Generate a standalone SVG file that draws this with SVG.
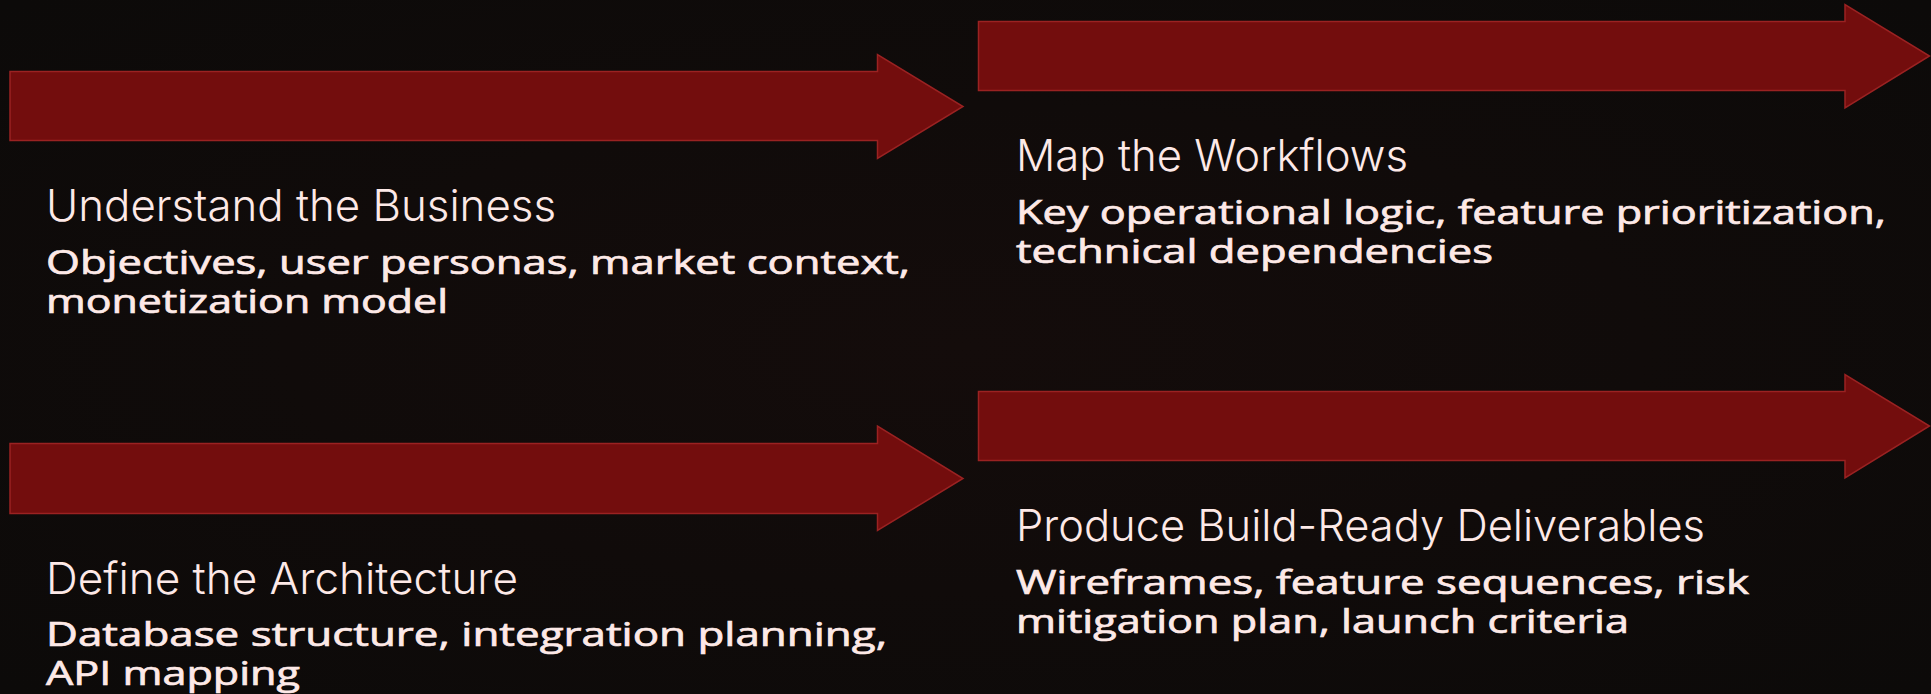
<svg xmlns="http://www.w3.org/2000/svg" width="1931" height="694" viewBox="0 0 1931 694">
  <defs>
    <radialGradient id="bg" cx="0.5" cy="0.5" r="0.7">
      <stop offset="0" stop-color="#140c0b"/>
      <stop offset="1" stop-color="#0c0a09"/>
    </radialGradient>
    <style>
      .arrow { fill: #730d0d; stroke: #9a2222; stroke-width: 1.5; stroke-linejoin: miter; }
      .title { font-family: Inter, "Liberation Sans", sans-serif; font-weight: 300; font-size: 44px; fill: #fde9e7; }
      .body { font-family: "Open Sans", "Liberation Sans", sans-serif; font-weight: 400; font-size: 32px; fill: #fde9e7; stroke: #fde9e7; stroke-width: 0.7; }
    </style>
  </defs>
  <rect x="0" y="0" width="1931" height="694" fill="url(#bg)"/>

  <g id="connectors"></g>

  <g id="node-understand">
    <path class="arrow" d="M10,71.5 H877.5 V54.5 L963,106.5 L877.5,158.5 V140.5 H10 Z"/>
    <text class="title" x="46" y="221" textLength="510" lengthAdjust="spacingAndGlyphs">Understand the Business</text>
    <text class="body" x="46" y="274" textLength="864" lengthAdjust="spacingAndGlyphs">Objectives, user personas, market context,</text>
    <text class="body" x="46" y="313" textLength="402" lengthAdjust="spacingAndGlyphs">monetization model</text>
  </g>

  <g id="node-workflows">
    <path class="arrow" d="M978.5,21.5 H1845 V4.5 L1929.5,56 L1845,108 V90.5 H978.5 Z"/>
    <text class="title" x="1016" y="171" textLength="392" lengthAdjust="spacingAndGlyphs">Map the Workflows</text>
    <text class="body" x="1016" y="224" textLength="870" lengthAdjust="spacingAndGlyphs">Key operational logic, feature prioritization,</text>
    <text class="body" x="1016" y="263" textLength="477" lengthAdjust="spacingAndGlyphs">technical dependencies</text>
  </g>

  <g id="node-architecture">
    <path class="arrow" d="M10,443.5 H877.5 V426 L963,478.5 L877.5,530.5 V513.5 H10 Z"/>
    <text class="title" x="46" y="594" textLength="472" lengthAdjust="spacingAndGlyphs">Define the Architecture</text>
    <text class="body" x="46" y="646" textLength="841" lengthAdjust="spacingAndGlyphs">Database structure, integration planning,</text>
    <text class="body" x="46" y="685" textLength="254" lengthAdjust="spacingAndGlyphs">API mapping</text>
  </g>

  <g id="node-deliverables">
    <path class="arrow" d="M978.5,391.5 H1845 V374.5 L1929.5,426 L1845,478 V460.5 H978.5 Z"/>
    <text class="title" x="1016" y="541" textLength="689" lengthAdjust="spacingAndGlyphs">Produce Build-Ready Deliverables</text>
    <text class="body" x="1016" y="594" textLength="733" lengthAdjust="spacingAndGlyphs">Wireframes, feature sequences, risk</text>
    <text class="body" x="1016" y="633" textLength="613" lengthAdjust="spacingAndGlyphs">mitigation plan, launch criteria</text>
  </g>
</svg>
